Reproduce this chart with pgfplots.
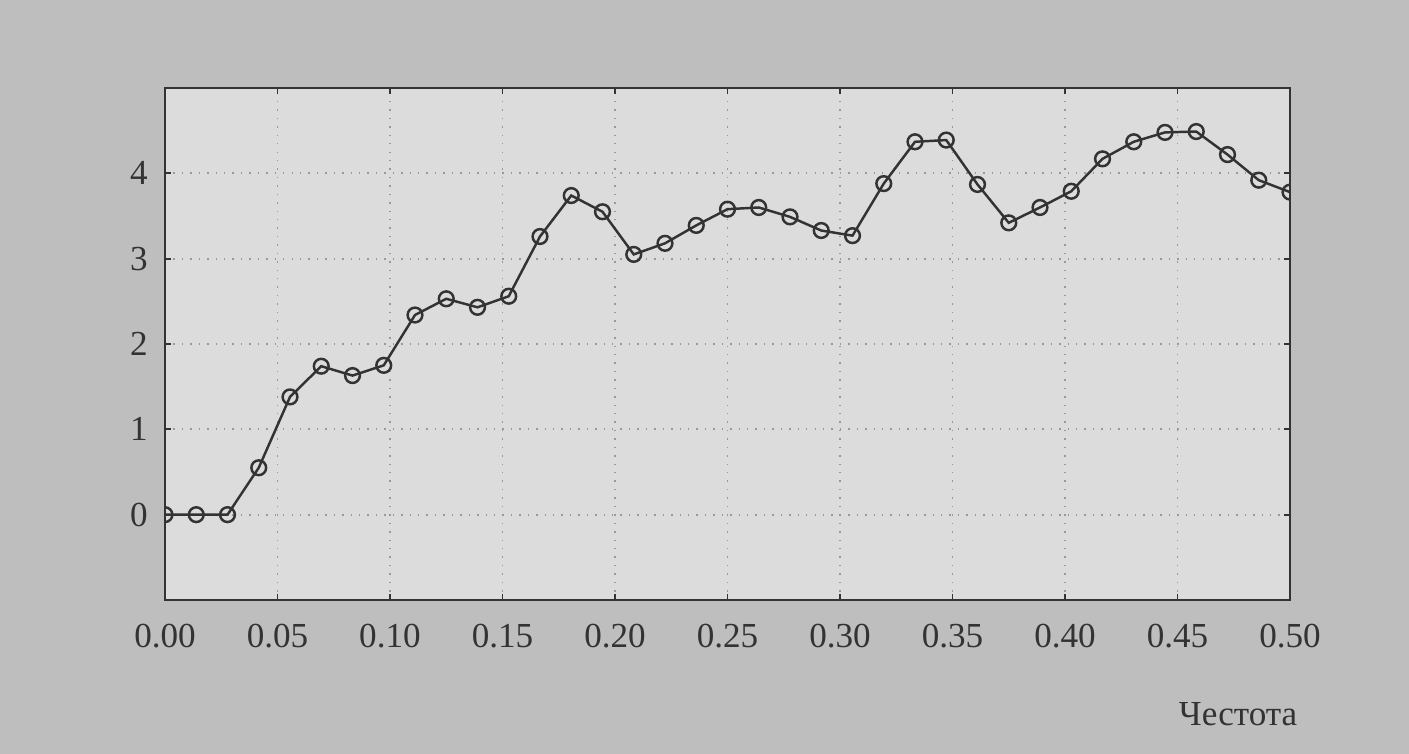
\documentclass[border=0pt]{standalone}
\usepackage{fontspec}
\setmainfont{Liberation Serif}
\usepackage{pgfplots}
\pgfplotsset{compat=1.18}
\definecolor{pagebg}{HTML}{BEBEBE}
\definecolor{plotbg}{HTML}{DCDCDC}
\definecolor{ink}{HTML}{333333}
\pgfplotstableread{
x y
0.000000 0.00
0.013889 0.00
0.027778 0.00
0.041667 0.55
0.055556 1.38
0.069444 1.74
0.083333 1.63
0.097222 1.75
0.111111 2.34
0.125000 2.53
0.138889 2.43
0.152778 2.56
0.166667 3.26
0.180556 3.74
0.194444 3.55
0.208333 3.05
0.222222 3.18
0.236111 3.39
0.250000 3.58
0.263889 3.60
0.277778 3.49
0.291667 3.33
0.305556 3.27
0.319444 3.88
0.333333 4.37
0.347222 4.39
0.361111 3.87
0.375000 3.42
0.388889 3.60
0.402778 3.79
0.416667 4.17
0.430556 4.37
0.444444 4.48
0.458333 4.49
0.472222 4.22
0.486111 3.92
0.500000 3.78
}\spectrum
\begin{document}
\begin{tikzpicture}[x=1cm,y=1cm]
\fill[pagebg] (0,0) rectangle (14.09,7.54);
\begin{axis}[
  at={(1.65cm,1.54cm)}, anchor=south west,
  scale only axis, width=11.25cm, height=5.12cm,
  xmin=0, xmax=0.5, ymin=-1, ymax=5,
  xtick={0,0.05,0.10,0.15,0.20,0.25,0.30,0.35,0.40,0.45,0.50},
  ytick={0,1,2,3,4},
  /pgf/number format/assume math mode=true,
  ticklabel style={font=\fontsize{10}{12}\selectfont, text=ink},
  xticklabel style={yshift=-0.12cm, /pgf/number format/.cd, fixed, fixed zerofill, precision=2},
  yticklabel style={xshift=-0.05cm},
  tick align=inside,
  major tick length=0.06cm,
  tick style={ink, line width=0.5pt},
  axis line style={ink, line width=0.65pt},
  axis background/.style={fill=plotbg},
  grid=major,
  major grid style={dotted, black!40, line width=0.5pt},
  xlabel={Честота},
  xlabel style={font=\fontsize{10}{12}\selectfont, text=ink, at={(rel axis cs:1,0)}, anchor=north east, yshift=-1.02cm, xshift=0.08cm, inner sep=0pt},
  clip marker paths=true,
]
\addplot[ink, line width=0.7pt, mark=o, mark size=2.1pt, mark options={fill=plotbg!60!white, line width=0.7pt}] table[x=x,y=y] {\spectrum};
\end{axis}
\end{tikzpicture}
\end{document}
